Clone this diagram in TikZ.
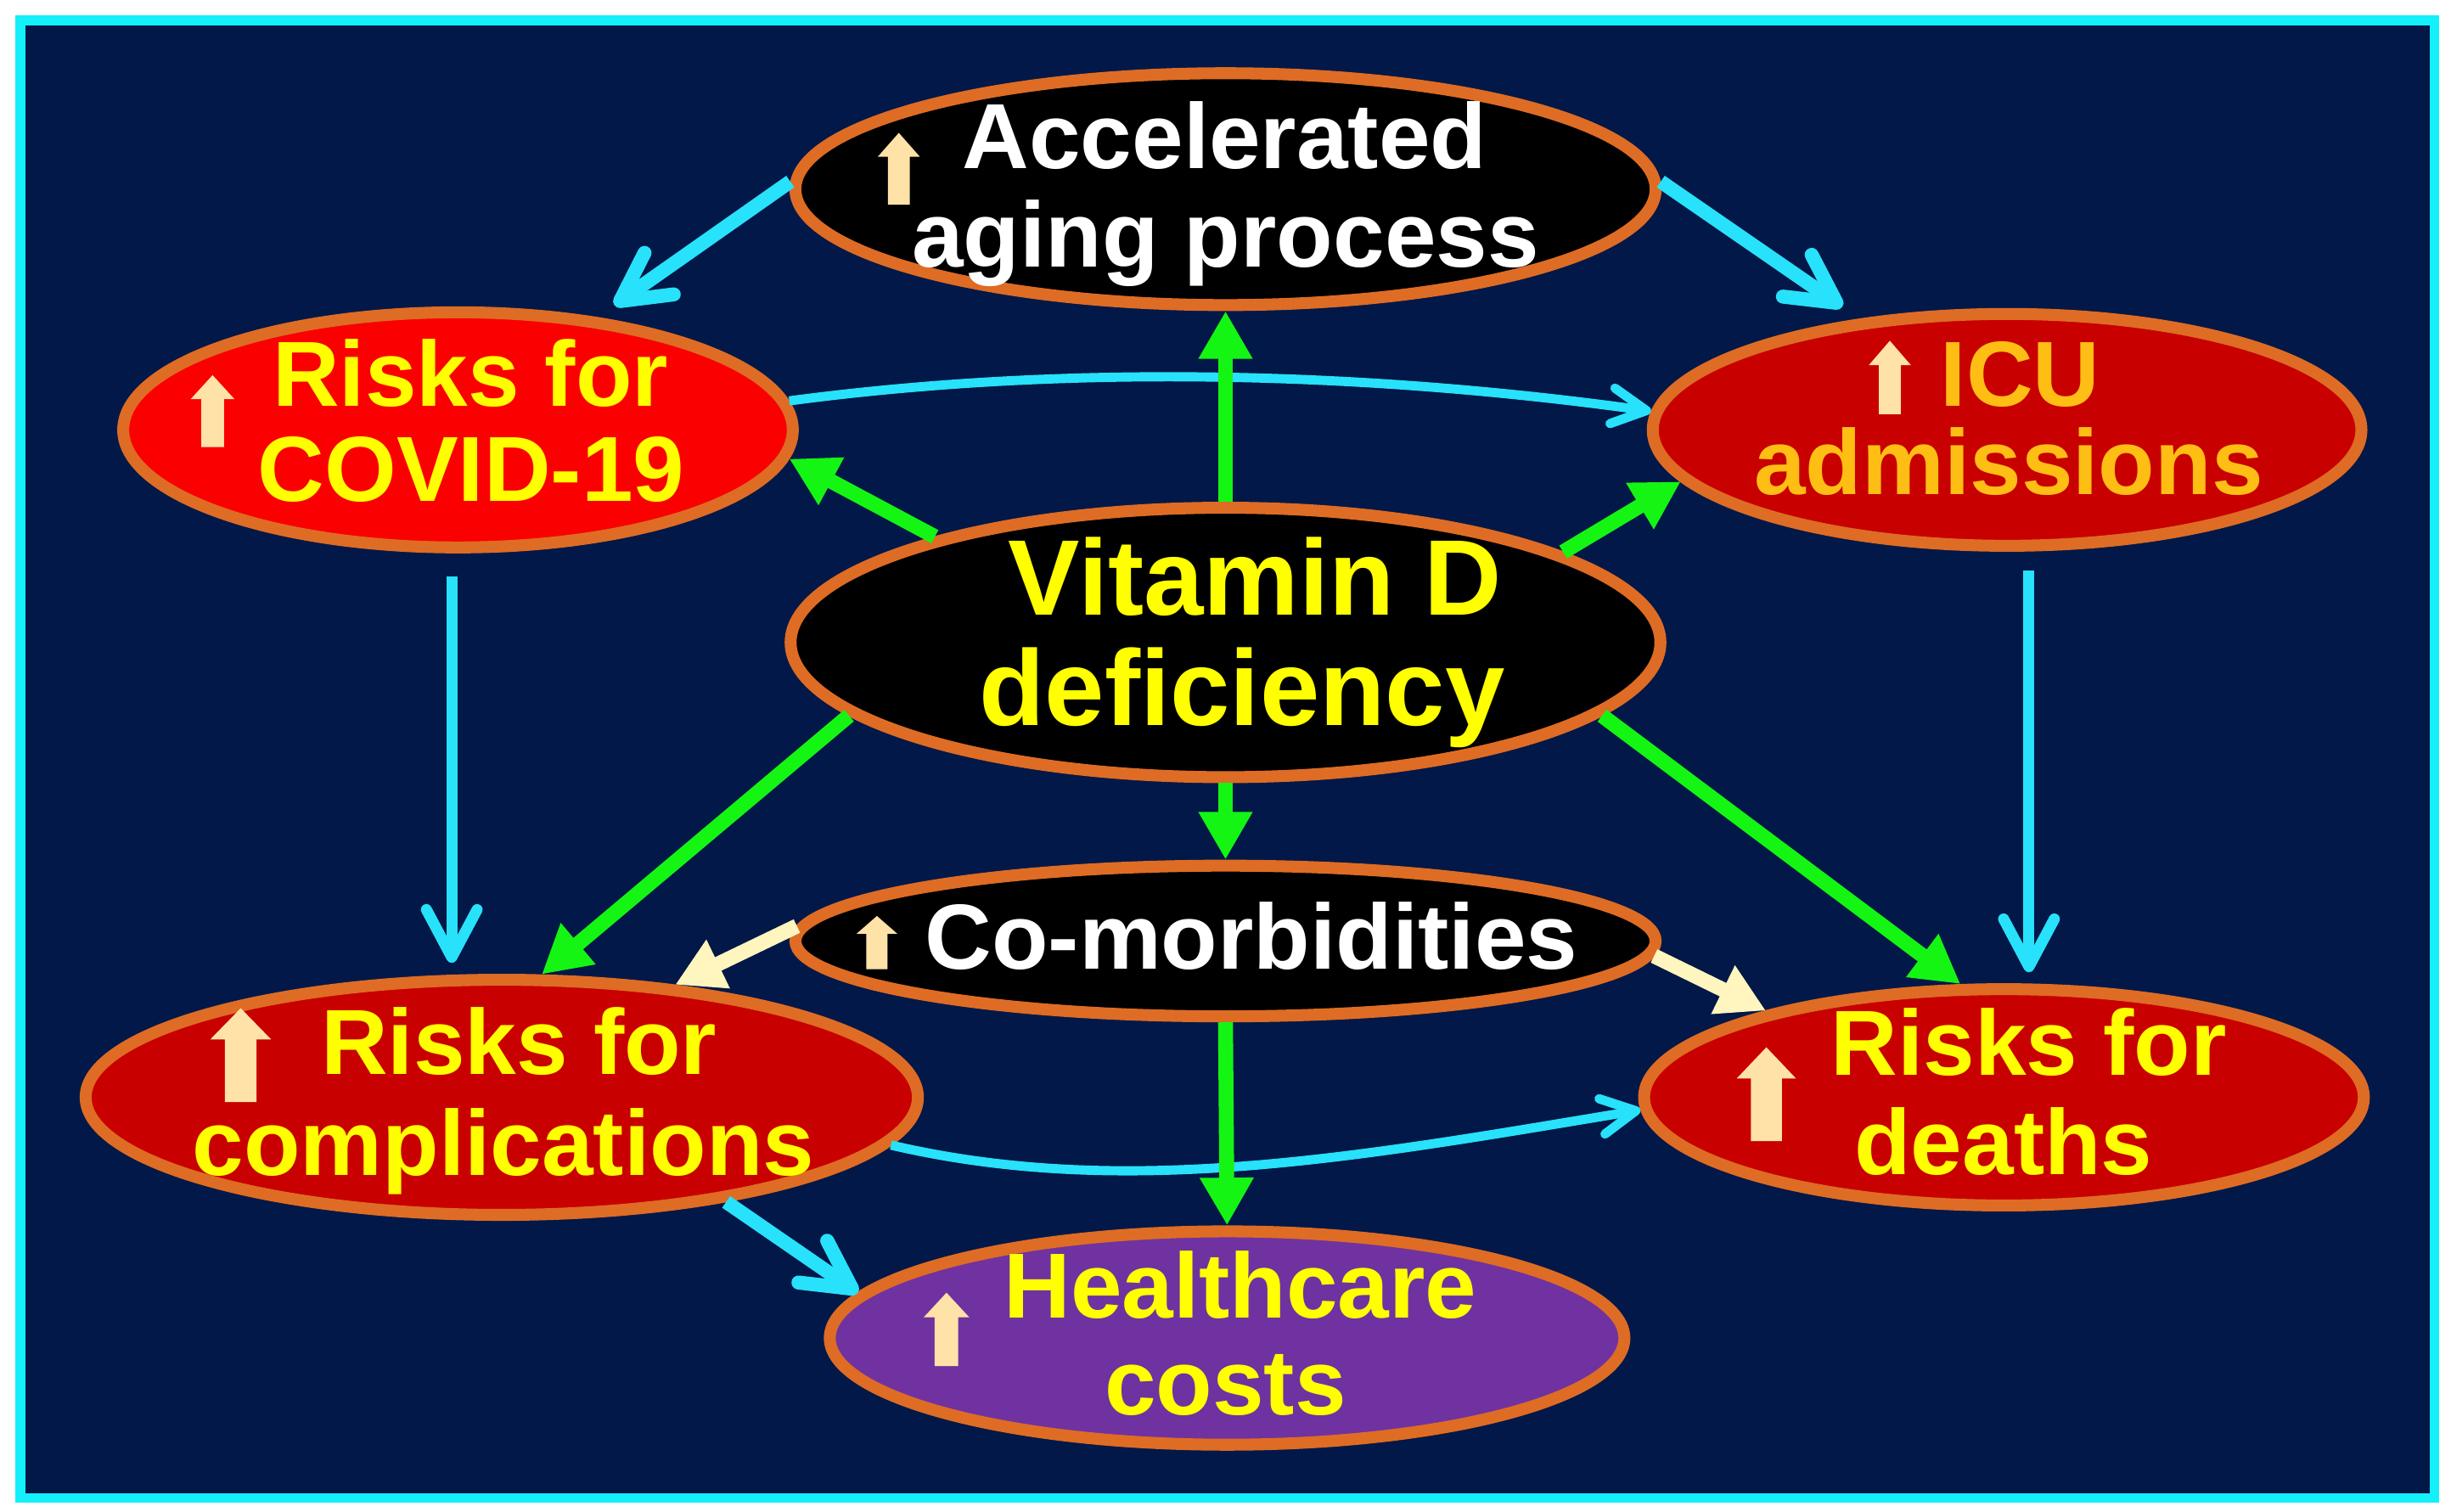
\documentclass[tikz,border=0pt]{standalone}
\usepackage{fontspec}
\setmainfont{Liberation Sans}
\usetikzlibrary{arrows.meta,shapes.geometric,calc}

\definecolor{navy}{RGB}{2,24,72}
\definecolor{bordc}{RGB}{20,240,250}
\definecolor{cyn}{RGB}{40,225,250}
\definecolor{grn}{RGB}{20,245,20}
\definecolor{crm}{RGB}{255,245,190}
\definecolor{upc}{RGB}{255,226,168}
\definecolor{ebord}{RGB}{222,108,36}
\definecolor{redA}{RGB}{250,0,0}
\definecolor{redB}{RGB}{200,0,0}
\definecolor{purp}{RGB}{112,50,160}
\definecolor{ylw}{RGB}{255,255,0}
\definecolor{orng}{RGB}{255,190,20}

% up-arrow symbol: centre x, top y, bottom y, head width
\newcommand\uparw[4]{%
  \fill[upc] (#1,#2) -- ({#1+#4/2},{#2+(#3-#2)/3}) -- ({#1+0.26*#4},{#2+(#3-#2)/3})
   -- ({#1+0.26*#4},#3) -- ({#1-0.26*#4},#3) -- ({#1-0.26*#4},{#2+(#3-#2)/3})
   -- ({#1-#4/2},{#2+(#3-#2)/3}) -- cycle;}

\begin{document}
\begin{tikzpicture}[x=0.52387pt,y=-0.52387pt,
  ell/.style={ellipse, draw=ebord, line width=4pt, inner sep=0pt},
  tA/.style={anchor=base, inner sep=0pt, font=\bfseries\fontsize{31}{31}\selectfont},
  tB/.style={anchor=base, inner sep=0pt, font=\bfseries\fontsize{36}{36}\selectfont},
  garr/.style={draw=grn, line width=5pt, -{Triangle[length=16pt,width=17pt]}},
  yarr/.style={draw=crm, line width=5pt, -{Triangle[length=16pt,width=17pt]}},
  cthick/.style={draw=cyn, line width=4.7pt, -{Straight Barb[length=16pt,width=17pt,line cap=round,line join=round]}},
  cvert/.style={draw=cyn, line width=3.7pt, -{Straight Barb[length=16pt,width=17pt,line cap=round,line join=round]}},
  cthin/.style={draw=cyn, line width=3.1pt, -{Straight Barb[length=11.5pt,width=12pt,line cap=round,line join=round]}}]

\useasboundingbox (0,0) rectangle (1568,966.8);
\fill[white] (0,0) rectangle (1568,966.8);
\fill[navy] (13,13) rectangle (1557.3,958.2);
\draw[bordc, line width=3.25pt] (13,13) rectangle (1557.3,958.2);

% ellipses
\node[ell, fill=black, minimum width=288.3pt, minimum height=77.7pt] (aging) at (784,121) {};
\node[ell, fill=redA, minimum width=224.4pt, minimum height=78.8pt] (covid) at (293,275) {};
\node[ell, fill=redB, minimum width=237.5pt, minimum height=77.7pt] (icu) at (1284,275) {};
\node[ell, fill=black, minimum width=291.5pt, minimum height=90.3pt] (vitd) at (784,411) {};
\node[ell, fill=black, minimum width=288.3pt, minimum height=50.5pt] (comor) at (784,602) {};
\node[ell, fill=redB, minimum width=278.9pt, minimum height=78.8pt] (compl) at (321,702) {};
\node[ell, fill=redB, minimum width=241.2pt, minimum height=72.5pt] (deaths) at (1282,702) {};
\node[ell, fill=purp, minimum width=266.3pt, minimum height=71.5pt] (health) at (785,856) {};

% texts
\node[tA, text=white] (agingA) at (783.5,107.6) {Accelerated};
\node[tA, text=white] (agingB) at (784,171) {aging process};
\node[tA, text=ylw] (covidA) at (301,260) {Risks for};
\node[tA, text=ylw] (covidB) at (301.5,320.5) {COVID-19};
\node[tA, text=orng] (icuA) at (1292.5,260) {ICU};
\node[tA, text=orng] (icuB) at (1285,316.5) {admissions};
\node[tB, text=ylw] (vitdA) at (803,393.7) {Vitamin D};
\node[tB, text=ylw] (vitdB) at (794.6,464) {deficiency};
\node[tA, text=white] (comorA) at (800.5,620) {Co-morbidities};
\node[tA, text=ylw] (complA) at (332,687.4) {Risks for};
\node[tA, text=ylw] (complB) at (322,752) {complications};
\node[tA, text=ylw] (deathsA) at (1298,688) {Risks for};
\node[tA, text=ylw] (deathsB) at (1281.7,751.5) {deaths};
\node[tA, text=ylw] (healthA) at (793.5,843) {Healthcare};
\node[tA, text=ylw] (healthB) at (784,905) {costs};

% up-arrow symbols
\uparw{575}{85}{131}{27}
\uparw{136}{240}{286}{28}
\uparw{1209}{218}{265}{27}
\uparw{561}{586}{620}{26}
\uparw{605.5}{827}{874}{29}
\uparw{154}{645}{705}{39}
\uparw{1130}{670}{730}{38}

% cyan connectors
\draw[cthin] (covid.5) .. controls +(180,-24) and +(-180,-25) .. (icu.177);
\draw[cthin] (compl.-7) .. controls +(150,35) and +(-180,30) .. (deaths.-178);
\draw[cthick, shorten >=7pt] (aging.179) -- (covid.39);
\draw[cthick, shorten >=7pt] (aging.1) -- (icu.143);
\draw[cvert] ($(icu.south)+(14,12)$) -- ($(deaths.north)+(16,-7)$);
\draw[cvert] ($(covid.south)+(-4,15)$) -- ($(compl.north)+(-32,-7)$);
\draw[cthick] (compl.-25) -- (health.173);

% green connectors
\draw[garr] (vitd.north) -- (aging.south);
\draw[garr] (vitd.160) -- (covid.-5);
\draw[garr] (vitd.15) -- (icu.189);
\draw[garr] (vitd.191) -- (compl.72);
\draw[garr] (vitd.-11) -- (deaths.111);
\draw[garr] (vitd.south) -- (comor.north);
\draw[garr] (comor.south) -- (health.north);

% cream connectors
\draw[yarr] (comor.178) -- (compl.33);
\draw[yarr] (comor.-2) -- (deaths.160);
\end{tikzpicture}
\end{document}
